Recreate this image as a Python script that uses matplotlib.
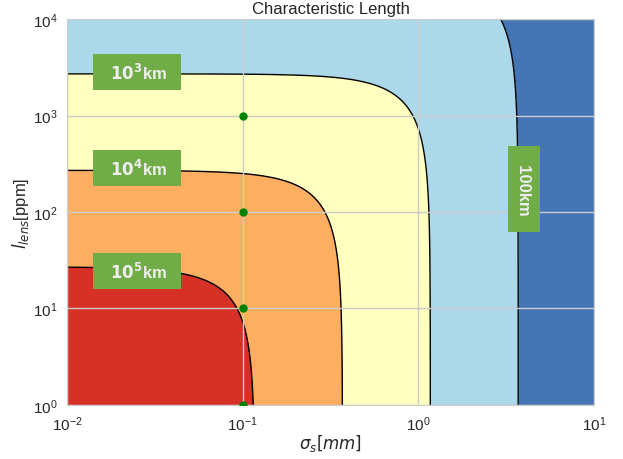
import numpy as np
import matplotlib
matplotlib.use('Agg')
import matplotlib.pyplot as plt
import seaborn as sns

# contour levels (km) and where the 100 km contour meets each axis
levels_km = [100, 1e3, 1e4, 1e5]
sigma_100km = 3.7       # mm, at l_lens -> 0
lens_100km = 27000.0    # ppm, at sigma_s -> 0

fill_colors = ['#4575b4', '#abd9e9', '#ffffbf', '#fdae61', '#d73027']

# sample points on the plot
dot_sigma = [0.1, 0.1, 0.1, 0.1]
dot_lens = [1, 10, 100, 1000]

# labels: text, x, y, rotation
label_text = [r'  $\mathbf{10^3}$km  ', r'  $\mathbf{10^4}$km  ',
              r'  $\mathbf{10^5}$km  ', '  100km  ']
label_x = [0.025, 0.025, 0.025, 3.99]
label_y = [2830, 286, 24.5, 173]
label_rot = [0, 0, 0, 270]

sns.set_style('whitegrid')
plt.rcParams['font.family'] = ['Liberation Sans', 'DejaVu Sans']

sigma = np.logspace(-2, 1, 400)
lens = np.logspace(0, 4, 400)
S, Lz = np.meshgrid(sigma, lens)
char_len = 100.0 / ((S / sigma_100km) ** 2 + Lz / lens_100km)

fig = plt.figure(figsize=(6.23, 4.6), dpi=100)
ax = fig.add_subplot(111)
fig.subplots_adjust(left=0.1075, right=0.9535, bottom=0.1174, top=0.9565)

bounds = [0] + levels_km + [1e12]
ax.contourf(S, Lz, char_len, levels=bounds, colors=fill_colors)
ax.contour(S, Lz, char_len, levels=levels_km, colors='black', linewidths=1)

ax.set_xscale('log')
ax.set_yscale('log')
ax.set_xlim(1e-2, 1e1)
ax.set_ylim(1e0, 1e4)
ax.set_axisbelow(False)
ax.grid(True, which='major', color='0.8', linewidth=1)
ax.minorticks_off()

ax.plot(dot_sigma, dot_lens, 'o', color='green', markersize=5, zorder=5)

for t, x, y, r in zip(label_text, label_x, label_y, label_rot):
    ax.text(x, y, t, ha='center', va='center', rotation=r, fontsize=12,
            fontweight='bold', color='#eeeeee', zorder=6,
            bbox=dict(boxstyle='square,pad=0.5', fc='#70ad47', ec='none'))

ax.tick_params(labelsize=11)
ax.set_xlabel(r'$\sigma_s[mm]$', fontsize=12, labelpad=-1)
ax.set_ylabel(r'$l_{lens}$[ppm]', fontsize=12, labelpad=1)
ax.set_title('Characteristic Length', fontsize=12, pad=4)

fig.savefig('out.png', dpi=100)
